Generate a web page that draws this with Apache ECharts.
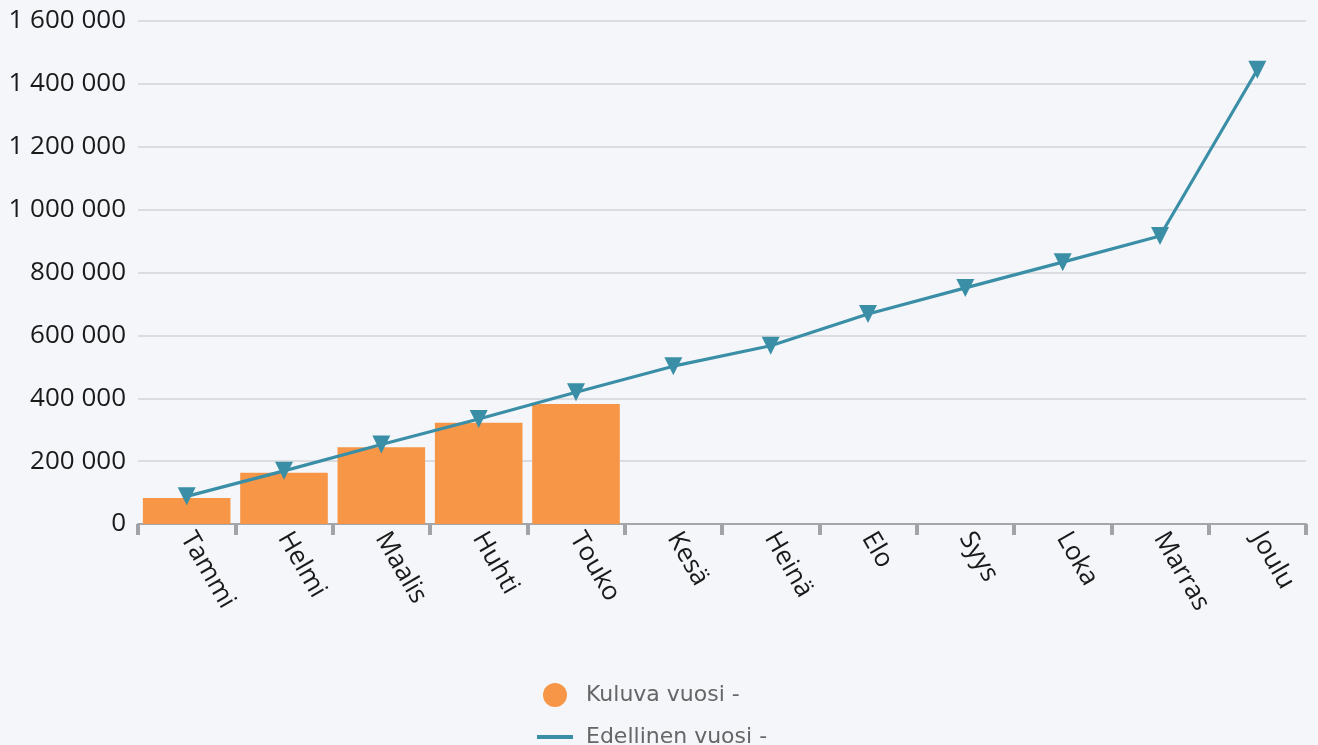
<!DOCTYPE html>
<html>
<head>
<meta charset="utf-8">
<script src="https://cdn.jsdelivr.net/npm/echarts@6/dist/echarts.min.js"></script>
<style>
  html, body { margin: 0; padding: 0; background: #F5F6FA; }
  #chart { width: 1318px; height: 745px; }
</style>
</head>
<body>
<div id="chart"></div>
<script>
// kuukaudet
const months = ['Tammi', 'Helmi', 'Maalis', 'Huhti', 'Touko', 'Kesä', 'Heinä', 'Elo', 'Syys', 'Loka', 'Marras', 'Joulu'];

// kuluva vuosi (pylväät)
const currentYear = [83000, 163000, 244000, 322000, 382000];

// edellinen vuosi (viiva)
const previousYear = [88000, 169000, 253000, 334000, 419000, 502000, 567000, 668000, 751000, 833000, 916000, 1445000];

const yTicks = [0, 200000, 400000, 600000, 800000, 1000000, 1200000, 1400000, 1600000];

const names = ['Kuluva vuosi -', 'Edellinen vuosi -'];
const colors = ['#F79646', '#3A8FA7'];

// välilyönti tuhaterottimena
const fmt = v => String(v).replace(/\B(?=(\d{3})+(?!\d))/g, ' ');

const myChart = echarts.init(document.getElementById('chart'));

const option = {
  backgroundColor: '#F5F6FA',
  animation: false,
  grid: {
    left: 138,
    right: 12,
    top: 21,
    bottom: 221,
    containLabel: false
  },
  legend: {
    orient: 'vertical',
    left: 532,
    top: 678,
    height: 120,
    itemWidth: 36,
    itemHeight: 24,
    itemGap: 19,
    textStyle: {
      fontFamily: 'DejaVu Sans',
      fontSize: 22,
      color: '#666666',
      padding: [0, 0, 0, 8]
    },
    data: [
      { name: names[0], icon: 'circle' },
      { name: names[1], icon: 'path://M0,0H36V4H0Z' }
    ]
  },
  xAxis: {
    type: 'category',
    data: months,
    axisLine: { lineStyle: { color: '#A3A6AB', width: 2 } },
    axisTick: { show: true, inside: false, length: 11, lineStyle: { color: '#A0A3A8', width: 4 } },
    axisLabel: {
      rotate: -60,
      margin: 10,
      fontFamily: 'Open Sans',
      fontSize: 26,
      color: '#1A1A1A',
      interval: 0
    }
  },
  yAxis: {
    type: 'value',
    min: yTicks[0],
    max: yTicks[yTicks.length - 1],
    interval: yTicks[1] - yTicks[0],
    axisLine: { show: false },
    axisTick: { show: false },
    splitLine: { lineStyle: { color: '#D2D3D8', width: 1.5 } },
    axisLabel: {
      margin: 12,
      fontFamily: 'Open Sans',
      fontSize: 26,
      color: '#1A1A1A',
      formatter: fmt
    }
  },
  series: [
    {
      name: names[0],
      type: 'bar',
      data: currentYear,
      barCategoryGap: '10%',
      itemStyle: { color: colors[0] }
    },
    {
      name: names[1],
      type: 'line',
      data: previousYear,
      symbol: 'triangle',
      symbolRotate: 180,
      symbolSize: 18,
      lineStyle: { color: colors[1], width: 3.2 },
      itemStyle: { color: colors[1] }
    }
  ]
};

myChart.setOption(option);
</script>
</body>
</html>
